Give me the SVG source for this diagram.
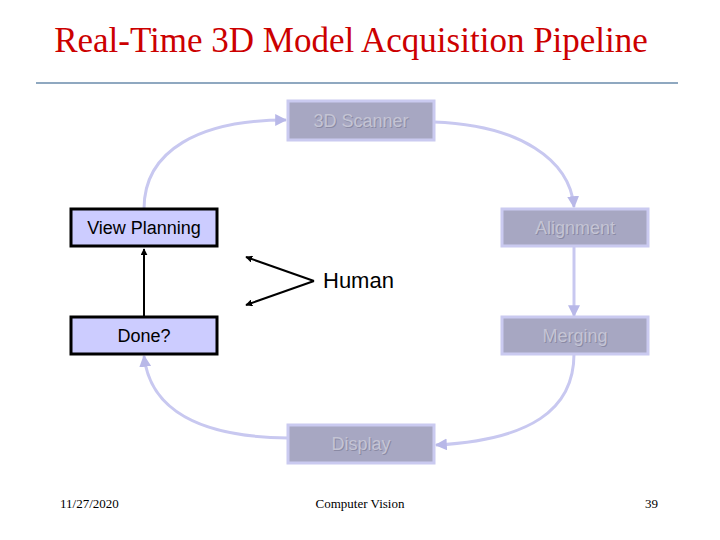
<svg xmlns="http://www.w3.org/2000/svg" width="720" height="540" viewBox="0 0 720 540">
<style>
.g rect{fill:#a7a7c2;stroke:#cacaf0;stroke-width:3}
.g text{font-family:"Liberation Sans",Arial,sans-serif;font-size:18px;fill:#c4c4d4;text-anchor:middle}
.g .sh{fill:#8a8aa4}
.b rect{fill:#ccccff;stroke:#000;stroke-width:3}
.b text{font-family:"Liberation Sans",Arial,sans-serif;font-size:18px;fill:#000;text-anchor:middle}
.c{fill:none;stroke:#c8c8f0;stroke-width:3}
.k{fill:none;stroke:#000;stroke-width:2}
.f{font-family:"Liberation Serif","Times New Roman",serif;font-size:13px;fill:#000}
</style>
<defs>
<marker id="la" viewBox="0 0 10 10" refX="9" refY="5" markerWidth="4" markerHeight="4" orient="auto"><path d="M0,0L10,5L0,10z" fill="#b8b8e8"/></marker>
<marker id="ka" viewBox="0 0 10 10" refX="9" refY="5" markerWidth="3.5" markerHeight="3.5" orient="auto"><path d="M0,0L10,5L0,10z" fill="#000"/></marker>
</defs>
<rect width="720" height="540" fill="#fff"/>
<text x="351" y="52" text-anchor="middle" font-family="Liberation Serif,'Times New Roman',serif" font-size="35" fill="#cc0000">Real-Time 3D Model Acquisition Pipeline</text>
<line x1="36" y1="83" x2="678" y2="83" stroke="#8fa8c0" stroke-width="2"/>
<g id="connectors">
<path class="c" d="M144,209 C144,150 200,120 286,120" marker-end="url(#la)"/>
<path class="c" d="M434,122 C520,125 570,160 574,207" marker-end="url(#la)"/>
<path class="c" d="M574,246 L574,316" marker-end="url(#la)"/>
<path class="c" d="M574,354 C574,410 530,440 436,445" marker-end="url(#la)"/>
<path class="c" d="M288,438 C200,437 150,410 144,356" marker-end="url(#la)"/>
<path class="k" d="M144,317 L144,249" marker-end="url(#ka)"/>
<path class="k" stroke-width="3.5" d="M314,281 L246,257" marker-end="url(#ka)"/>
<path class="k" stroke-width="3.5" d="M314,281 L246,305" marker-end="url(#ka)"/>
</g>
<g id="scanner" class="g"><rect x="288" y="101" width="146" height="39"/><text class="sh" x="362" y="128">3D Scanner</text><text x="361" y="127">3D Scanner</text></g>
<g id="alignment" class="g"><rect x="502" y="209" width="146" height="37"/><text class="sh" x="576" y="235">Alignment</text><text x="575" y="234">Alignment</text></g>
<g id="merging" class="g"><rect x="502" y="317" width="146" height="37"/><text class="sh" x="576" y="343">Merging</text><text x="575" y="342">Merging</text></g>
<g id="display" class="g"><rect x="288" y="425" width="146" height="38"/><text class="sh" x="362" y="451">Display</text><text x="361" y="450">Display</text></g>
<g id="viewplanning" class="b"><rect x="71" y="209" width="146" height="37"/><text x="144" y="234">View Planning</text></g>
<g id="done" class="b"><rect x="71" y="317" width="146" height="37"/><text x="144" y="342">Done?</text></g>
<text x="323" y="288" font-family="Liberation Sans,Arial,sans-serif" font-size="22" fill="#000">Human</text>
<text class="f" x="60" y="508">11/27/2020</text>
<text class="f" x="360" y="508" text-anchor="middle">Computer Vision</text>
<text class="f" x="658" y="508" text-anchor="end">39</text>
</svg>
